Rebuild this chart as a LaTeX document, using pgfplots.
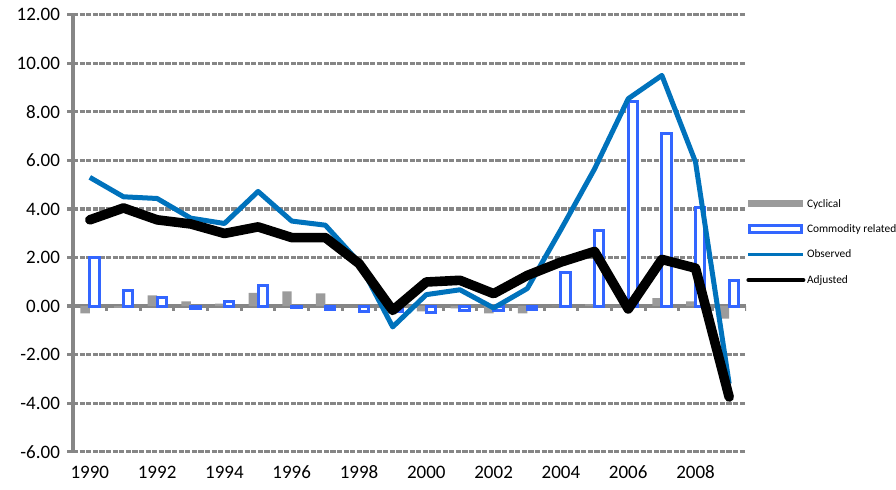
\documentclass[border=0pt]{standalone}
\usepackage{fontspec}
\setmainfont{Carlito}
\usepackage{pgfplots}
\usepackage{pgfplotstable}
\pgfplotsset{compat=1.18}

\definecolor{gridgray}{RGB}{134,134,134}
\definecolor{cycgray}{RGB}{155,155,155}
\definecolor{comblue}{RGB}{51,102,255}
\definecolor{obsteal}{RGB}{0,114,188}

% year, cyclical, commodity related, observed, adjusted
\pgfplotstableread{
year cyc com obs adj
1990 -0.30 2.00 5.30 3.55
1991 -0.08 0.62 4.50 4.04
1992 0.44 0.36 4.43 3.55
1993 0.19 -0.10 3.62 3.38
1994 0.10 0.18 3.40 2.99
1995 0.54 0.86 4.72 3.26
1996 0.60 -0.08 3.50 2.82
1997 0.52 -0.15 3.33 2.82
1998 0.00 -0.22 1.80 1.75
1999 -0.05 -0.22 -0.86 -0.18
2000 -0.22 -0.25 0.47 0.99
2001 -0.10 -0.20 0.67 1.06
2002 -0.30 -0.20 -0.08 0.51
2003 -0.30 -0.15 0.72 1.26
2004 0.02 1.37 3.15 1.81
2005 0.08 3.12 5.65 2.25
2006 0.02 8.43 8.54 -0.12
2007 0.33 7.10 9.50 1.92
2008 0.19 4.04 5.93 1.56
2009 -0.52 1.04 -3.20 -3.75
}\data

\begin{document}
\begin{tikzpicture}
\begin{axis}[
    scale only axis,
    width=336.5pt, height=218.5pt,
    xmin=1989.5, xmax=2009.5,
    ymin=-6, ymax=12,
    xtick={1990,1992,...,2008},
    ytick={-6,-4,...,12},
    axis lines*=left,
    x axis line style={draw=none},
    y axis line style={gridgray, line width=1.7pt},
    major tick length=3pt,
    tick align=outside,
    xtick style={draw=none},
    ytick style={gridgray, line width=1.6pt},
    ymajorgrids=true,
    grid style={gridgray, line width=1.6pt, dash pattern=on 2.6pt off 0.7pt},
    tick label style={font=\fontsize{9.5}{11}\selectfont, /pgf/number format/assume math mode=true},
    xticklabel style={/pgf/number format/1000 sep={}, yshift=-0.5pt},
    yticklabel style={/pgf/number format/fixed, /pgf/number format/fixed zerofill, /pgf/number format/precision=2},
    legend cell align=left,
    legend style={draw=none, fill=none, inner sep=0pt,
        at={(rel axis cs:1,0.48)}, anchor=west,
        nodes={inner xsep=0.8pt, inner ysep=0pt, text height=4.5pt, text depth=1.2pt,
            font=\fontsize{5.7}{7}\selectfont},
        row sep=7pt},
]

% zero line with category boundary ticks
\draw[gridgray, line width=1.7pt] (axis cs:1989.5,0) -- (axis cs:2009.5,0);
\pgfplotsinvokeforeach{1990.5,1991.5,...,2009.5}{
    \draw[gridgray, line width=1.5pt] (axis cs:#1,0) -- ++(0pt,-2.5pt);
}

\addplot[ybar, bar width=0.28, bar shift=-0.14, fill=cycgray, draw=none,
    legend image code/.code={\fill[cycgray] (0pt,-1.75pt) rectangle (27.5pt,1.75pt);}]
    table[x=year, y=cyc] {\data};
\addlegendentry{Cyclical}

\addplot[ybar, bar width=0.28, bar shift=0.14, fill=white, draw=comblue, line width=1.5pt,
    legend image code/.code={\draw[comblue, fill=white, line width=1.5pt] (0.75pt,-1.75pt) rectangle (26.75pt,1.75pt);}]
    table[x=year, y=com] {\data};
\addlegendentry{Commodity related}

\addplot[obsteal, line width=2.5pt, line join=round, no marks,
    legend image code/.code={\draw[obsteal, line width=1.7pt] (0pt,0pt) -- (27.5pt,0pt);}]
    table[x=year, y=obs] {\data};
\addlegendentry{Observed}

\addplot[black, line width=4.8pt, line join=round, line cap=round, no marks,
    legend image code/.code={\draw[black, line width=2pt, line cap=round] (0pt,0pt) -- (27.5pt,0pt);}]
    table[x=year, y=adj] {\data};
\addlegendentry{Adjusted}

\end{axis}
\pgfresetboundingbox
\path[use as bounding box] (-36.5pt,-18.65pt) rectangle (411.5pt,225.85pt);
\end{tikzpicture}
\end{document}
